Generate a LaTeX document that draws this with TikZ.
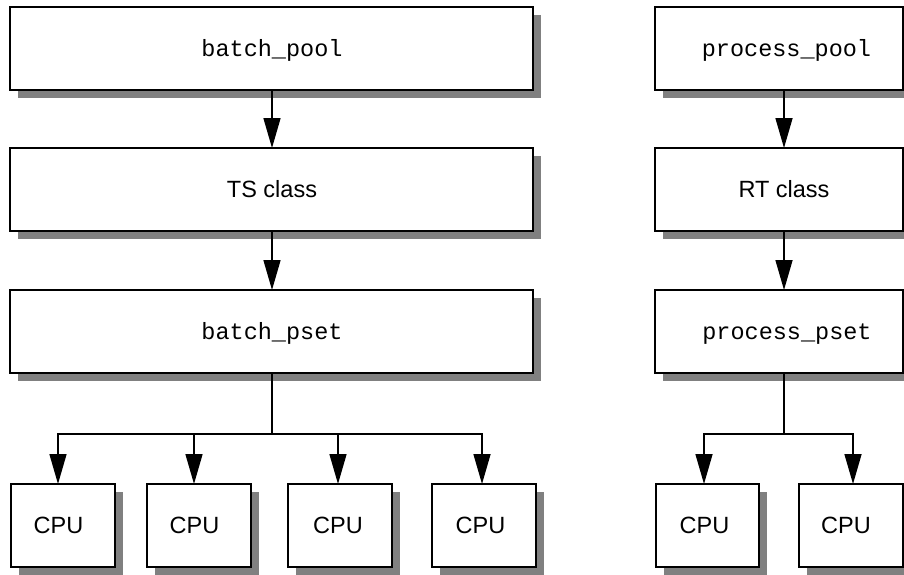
\documentclass[tikz,border=0pt]{standalone}
\usepackage{fontspec}
\setmainfont{Liberation Sans}
\newfontfamily\monof{Liberation Mono}
\usetikzlibrary{arrows.meta,shadows}
\begin{document}
\begin{tikzpicture}[x=1pt,y=-1pt,
  box/.style={draw, line width=2pt, fill=white, inner sep=0pt, outer sep=0pt,
    minimum height=83pt,
    drop shadow={fill=black!50, opacity=1, shadow xshift=8pt, shadow yshift=-8pt}},
  wide/.style={box, minimum width=523pt},
  rwide/.style={box, minimum width=248pt},
  cpu/.style={box, minimum width=104pt},
  sans/.style={anchor=base, inner sep=0pt, font=\fontsize{23.5}{28}\selectfont},
  mono/.style={anchor=base, inner sep=0pt, font=\monof\fontsize{23.5}{28}\selectfont},
  conn/.style={line width=1.5pt},
  arr/.style={conn, -{Triangle[length=30pt,width=17pt]}}]
\useasboundingbox (0,0) rectangle (904,574);

% left column
\node[wide] (bp) at (271.5,48.5) {};
\node[mono] (bpt) at (272,56.5) {batch\_pool};
\node[wide] (ts) at (271.5,189.5) {};
\node[sans] (tst) at (272,197.5) {TS class};
\node[wide] (bs) at (271.5,331.5) {};
\node[mono] (bst) at (272,339.5) {batch\_pset};

% right column
\node[rwide] (pp) at (779,48.5) {};
\node[mono] (ppt) at (786.5,56.5) {process\_pool};
\node[rwide] (rt) at (779,189.5) {};
\node[sans] (rtt) at (784,197.5) {RT class};
\node[rwide] (ps) at (779,331.5) {};
\node[mono] (pst) at (787,339.5) {process\_pset};

% CPUs
\node[cpu] (c1) at (62.5,525.5) {};
\node[sans] (c1t) at (58.5,533.5) {CPU};
\node[cpu] (c2) at (199,525.5) {};
\node[sans] (c2t) at (194.5,533.5) {CPU};
\node[cpu] (c3) at (340,525.5) {};
\node[sans] (c3t) at (338,533.5) {CPU};
\node[cpu] (c4) at (484,525.5) {};
\node[sans] (c4t) at (480.5,533.5) {CPU};
\node[cpu, minimum width=103pt] (c5) at (707.5,525.5) {};
\node[sans] (c5t) at (704.5,533.5) {CPU};
\node[cpu] (c6) at (851,525.5) {};
\node[sans] (c6t) at (846,533.5) {CPU};

% connectors left
\draw[arr] ([xshift=0.5pt]bp.south) -- ([xshift=0.5pt]ts.north);
\draw[arr] ([xshift=0.5pt]ts.south) -- ([xshift=0.5pt]bs.north);
\coordinate (lj) at (272,434);
\draw[conn] ([xshift=0.5pt]bs.south) -- (lj);
\draw[arr] (lj) -| ([xshift=-4.5pt]c1.north);
\draw[arr] (lj) -| ([xshift=-5pt]c2.north);
\draw[arr] (lj) -| ([xshift=-2pt]c3.north);
\draw[arr] (lj) -| ([xshift=-2pt]c4.north);

% connectors right
\draw[arr] ([xshift=5pt]pp.south) -- ([xshift=5pt]rt.north);
\draw[arr] ([xshift=5pt]rt.south) -- ([xshift=5pt]ps.north);
\coordinate (rj) at (784,434);
\draw[conn] ([xshift=5pt]ps.south) -- (rj);
\draw[arr] (rj) -| ([xshift=-3.5pt]c5.north);
\draw[arr] (rj) -| ([xshift=2pt]c6.north);
\end{tikzpicture}
\end{document}
